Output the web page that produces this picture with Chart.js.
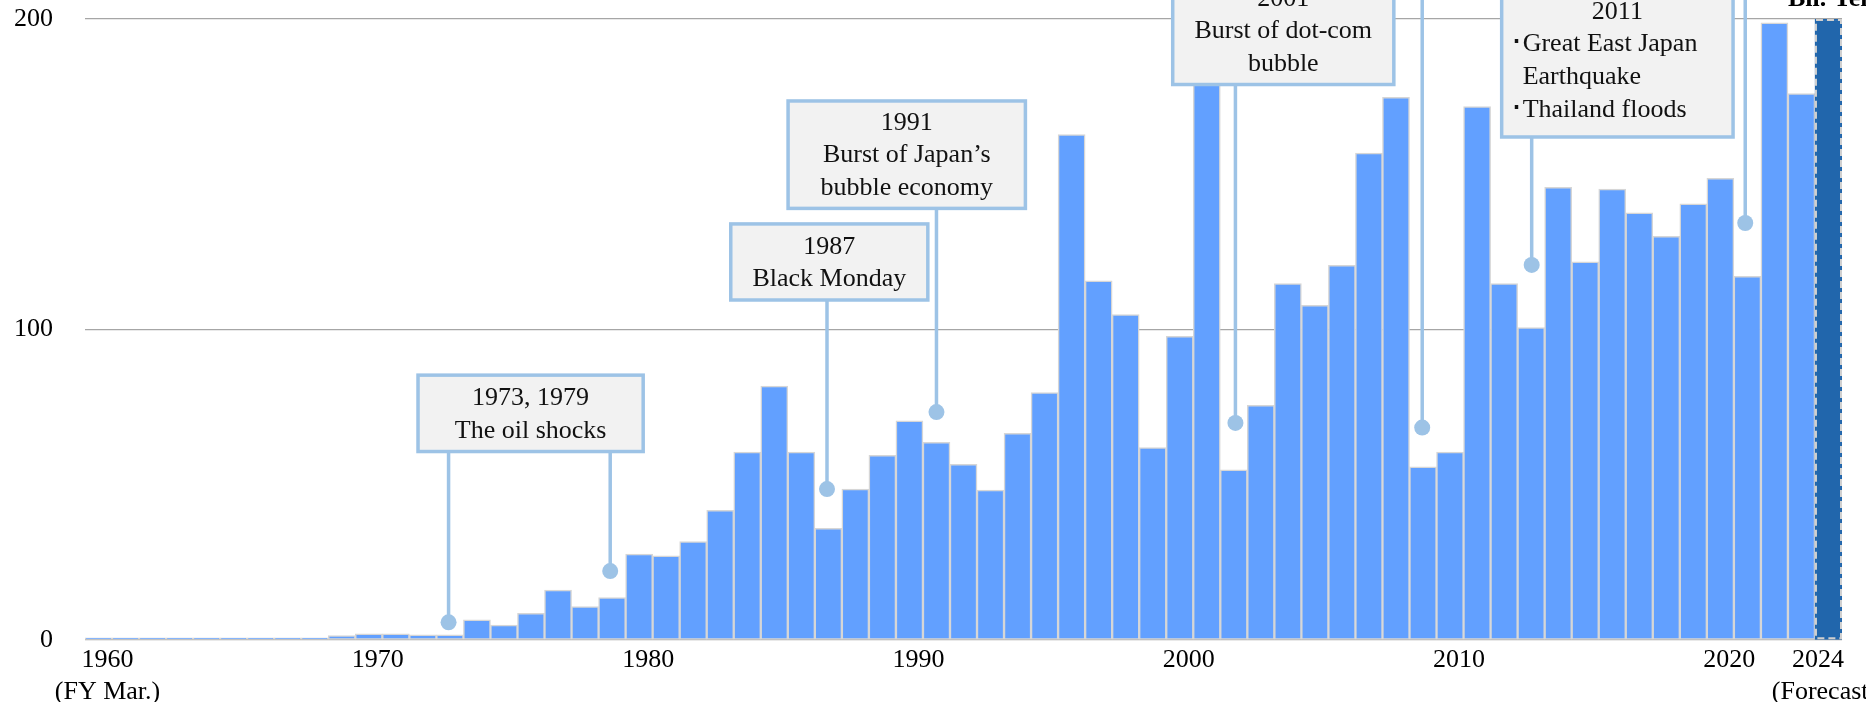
<!DOCTYPE html>
<html>
<head>
<meta charset="utf-8">
<script src="https://cdn.jsdelivr.net/npm/chart.js@4.4.1/dist/chart.umd.min.js"></script>
<style>
  html, body { margin: 0; padding: 0; background: #fff; overflow: hidden; }
  #wrap { position: relative; width: 1866px; height: 702px; }
</style>
</head>
<body>
<div id="wrap"><canvas id="barChart"></canvas></div>
<script>
"use strict";

// Fiscal years (FY Mar.), 2024 is the forecast
const years = [];
for (let y = 1960; y <= 2024; y++) years.push(y);

// Values in Bil. Yen
const values = [
    0.7, 0.7, 0.7, 0.7, 0.7, 0.7, 0.7, 0.7, 0.7, 1.4,
    2.0, 2.0, 1.7, 1.7, 6.5, 4.8, 8.6, 16.1, 10.8, 13.7,
    27.7, 27.1, 31.7, 41.8, 60.5, 81.8, 60.5, 36.0, 48.6, 59.5,
    70.6, 63.7, 56.6, 48.3, 66.6, 79.7, 162.8, 115.7, 104.8, 62.0,
    97.8, 210.0, 54.8, 75.6, 114.8, 107.8, 120.7, 156.8, 174.8, 55.8,
    60.5, 171.8, 114.8, 100.6, 145.8, 121.8, 145.2, 137.6, 130.0, 140.5,
    148.7, 117.1, 198.8, 176.0, 200.0
];

const tickYears = [1960, 1970, 1980, 1990, 2000, 2010, 2020, 2024];
const tickNotes = { 1960: '(FY Mar.)', 2024: '(Forecast)' };
const yTicks = [0, 100, 200];
const unitLabel = 'Bil. Yen';

// Event call-outs: pins at (category index, value), boxes in data units
const eventNotes = [
    { lines: ['1973, 1979', 'The oil shocks'], box: [11.82, 20.15, 85.3, 60.7], pins: [[12.95, 5.7], [18.93, 22.2]] },
    { lines: ['1987', 'Black Monday'], box: [23.39, 30.68, 134.0, 109.5], pins: [[26.95, 48.6]] },
    { lines: ['1991', 'Burst of Japan\u2019s', 'bubble economy'], box: [25.51, 34.29, 173.6, 139.0], pins: [[31.0, 73.4]] },
    { lines: ['2001', 'Burst of dot-com', 'bubble'], box: [39.74, 47.92, 230, 178.9], pins: [[42.06, 69.9]] },
    { lines: [], box: null, pins: [[48.97, 68.4]] },
    { lines: ['2011', '\uFF65Great East Japan', 'Earthquake', '\uFF65Thailand floods'], box: [51.91, 60.47, 230, 162.0], pins: [[53.02, 120.8]], left: true },
    { lines: [], box: null, pins: [[60.92, 134.3]] }
];

const FONT = '"Liberation Serif", "Times New Roman", serif';
const LIGHT = '#9dc3e6';

const barColors = values.map((v, i) => i === values.length - 1 ? '#2166ac' : '#62a0ff');
const barBorders = values.map((v, i) => i === values.length - 1 ? '#2166ac' : '#d6d6d6');

const notesPlugin = {
    id: 'eventNotes',
    afterDatasetsDraw(chart) {
        const { ctx, scales: { x, y } } = chart;
        ctx.save();

        // dashed outline of the forecast bar
        const meta = chart.getDatasetMeta(0);
        const last = meta.data[meta.data.length - 1];
        const p = last.getProps(['x', 'y', 'base', 'width'], true);
        ctx.strokeStyle = '#d0d0d0';
        ctx.lineWidth = 2;
        ctx.setLineDash([7, 4]);
        ctx.strokeRect(p.x - p.width / 2 + 1, p.y + 1, p.width - 2, p.base - p.y - 2);
        ctx.setLineDash([]);

        // leader lines and pins
        eventNotes.forEach(n => {
            const from = n.box ? y.getPixelForValue(n.box[3]) : -5;
            n.pins.forEach(([i, v]) => {
                const px = x.getPixelForValue(i);
                const py = y.getPixelForValue(v);
                ctx.strokeStyle = LIGHT;
                ctx.lineWidth = 3.5;
                ctx.beginPath();
                ctx.moveTo(px, from);
                ctx.lineTo(px, py);
                ctx.stroke();
                ctx.fillStyle = LIGHT;
                ctx.beginPath();
                ctx.arc(px, py, 8, 0, Math.PI * 2);
                ctx.fill();
            });
        });

        // boxes with text
        ctx.font = '26px ' + FONT;
        ctx.textBaseline = 'middle';
        const bulletW = ctx.measureText('\uFF65').width;
        eventNotes.forEach(n => {
            if (!n.box) return;
            const l = x.getPixelForValue(n.box[0]);
            const r = x.getPixelForValue(n.box[1]);
            const t = y.getPixelForValue(n.box[2]);
            const b = y.getPixelForValue(n.box[3]);
            ctx.fillStyle = '#f2f2f2';
            ctx.fillRect(l, t, r - l, b - t);
            ctx.strokeStyle = LIGHT;
            ctx.lineWidth = 3.5;
            ctx.strokeRect(l, t, r - l, b - t);
            ctx.fillStyle = '#111';
            const lh = n.left ? 32.7 : 32.4;
            const pad = n.left ? 27 : 20.5;
            const count = n.lines.length;
            n.lines.forEach((txt, k) => {
                const ty = b - pad - lh * (count - 1 - k);
                if (n.left && k > 0) {
                    ctx.textAlign = 'left';
                    const indent = txt.startsWith('\uFF65') ? 0 : bulletW;
                    ctx.fillText(txt, l + 8 + indent, ty);
                } else {
                    ctx.textAlign = 'center';
                    ctx.fillText(txt, (l + r) / 2, ty);
                }
            });
        });

        // unit label, mostly above the top edge
        ctx.font = 'bold 26px ' + FONT;
        ctx.textAlign = 'left';
        ctx.textBaseline = 'alphabetic';
        ctx.fillStyle = '#000';
        ctx.fillText(unitLabel, 1788, 6);
        ctx.restore();
    }
};

new Chart(document.getElementById('barChart'), {
    type: 'bar',
    data: {
        labels: years.map(String),
        datasets: [{
            data: values,
            backgroundColor: barColors,
            borderColor: barBorders,
            borderWidth: 1.5,
            borderSkipped: false,
            categoryPercentage: 1.0,
            barPercentage: 1.0
        }]
    },
    options: {
        responsive: true,
        maintainAspectRatio: false,
        animation: false,
        devicePixelRatio: 1,
        layout: { padding: { top: 19, right: 24, bottom: 0, left: 0 } },
        plugins: {
            legend: { display: false },
            tooltip: { enabled: false }
        },
        scales: {
            x: {
                grid: { display: false, drawTicks: false },
                border: { display: false },
                ticks: {
                    autoSkip: false,
                    maxRotation: 0,
                    padding: 5,
                    labelOffset: 9,
                    color: '#000',
                    font: { family: FONT, size: 26, lineHeight: 1.2 },
                    callback: (v, i) => {
                        const yr = years[i];
                        if (!tickYears.includes(yr)) return '';
                        if (yr === 2024) return [yr + '\u2003\u2002', tickNotes[yr] + '\u2003'];
                        return tickNotes[yr] ? [String(yr), tickNotes[yr]] : String(yr);
                    }
                },
                afterFit: s => { s.height = 62; s.paddingLeft = 0; s.paddingRight = 0; }
            },
            y: {
                min: 0,
                max: 200,
                afterBuildTicks: s => { s.ticks = yTicks.map(v => ({ value: v })); },
                grid: { color: '#a6a6a6', lineWidth: 1.3, drawTicks: false },
                border: { display: false },
                ticks: {
                    padding: 32,
                    color: '#000',
                    font: { family: FONT, size: 26 }
                },
                afterFit: s => { s.width = 85; s.paddingTop = 0; s.paddingBottom = 0; }
            }
        }
    },
    plugins: [notesPlugin]
});
</script>
</body>
</html>
